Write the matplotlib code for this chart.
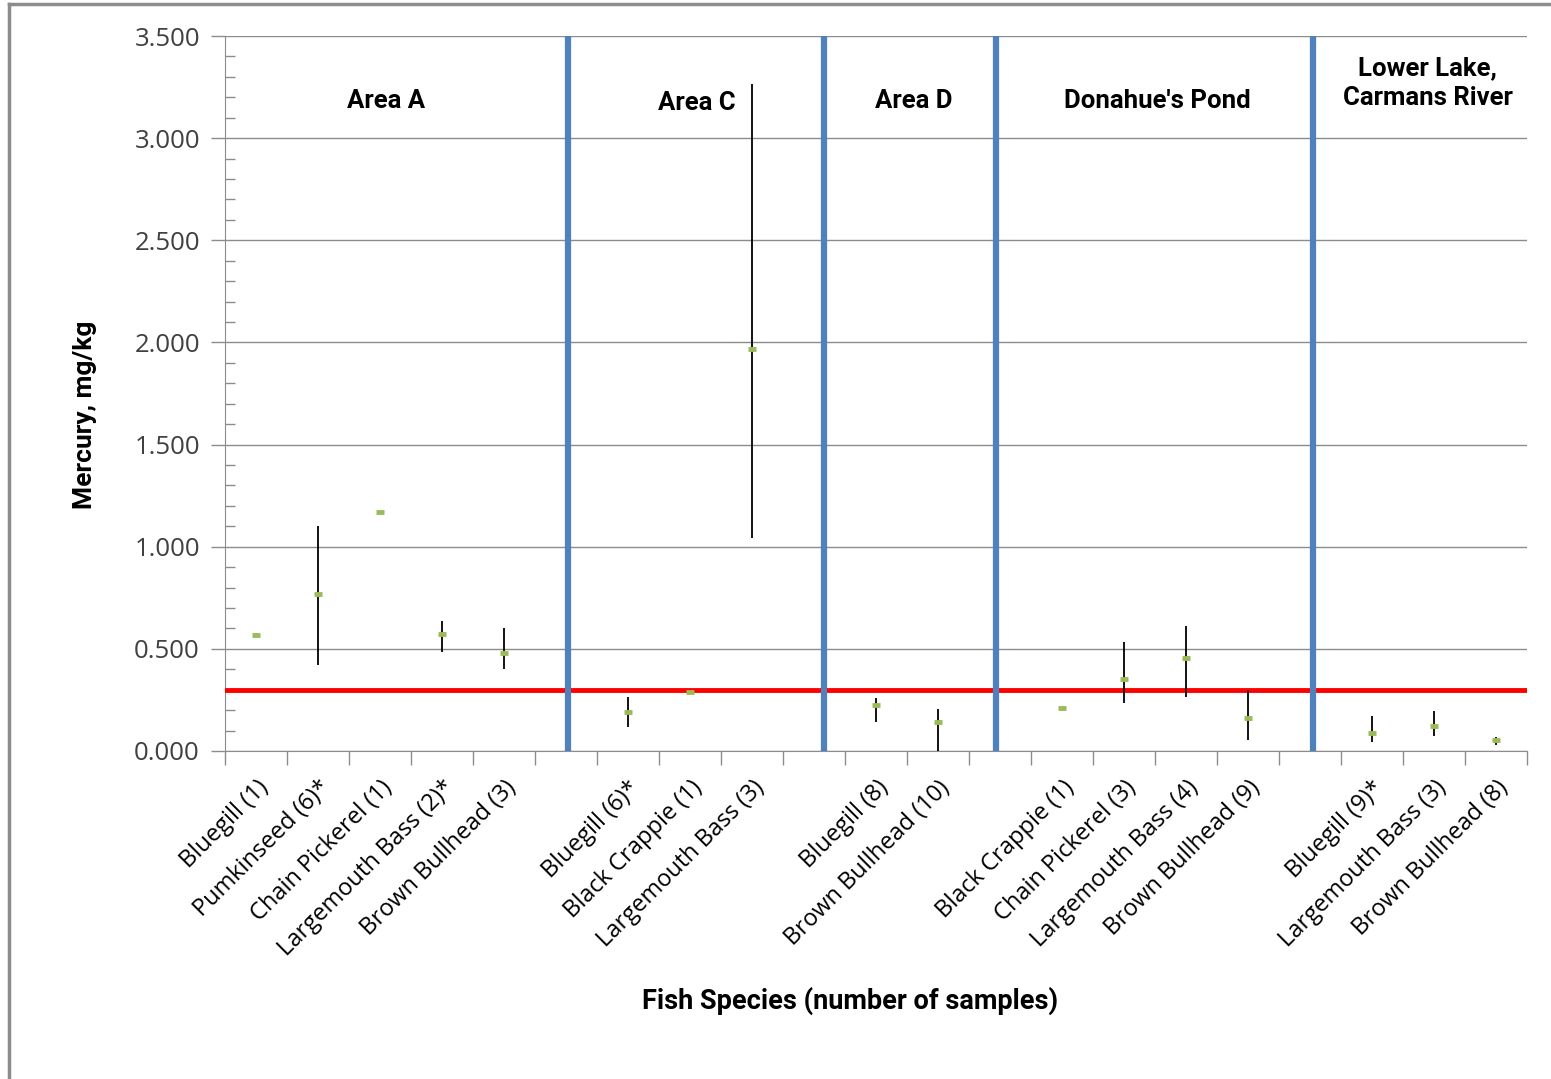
import matplotlib
matplotlib.use("Agg")
import matplotlib.pyplot as plt
import numpy as np
from matplotlib.lines import Line2D

categories = ["Bluegill (1)", "Pumkinseed (6)*", "Chain Pickerel (1)", "Largemouth Bass (2)*",
              "Brown Bullhead (3)", "",
              "Bluegill (6)*", "Black Crappie (1)", "Largemouth Bass (3)", "",
              "Bluegill (8)", "Brown Bullhead (10)", "",
              "Black Crappie (1)", "Chain Pickerel (3)", "Largemouth Bass (4)", "Brown Bullhead (9)", "",
              "Bluegill (9)*", "Largemouth Bass (3)", "Brown Bullhead (8)"]
means = [0.567, 0.768, 1.170, 0.573, 0.480, None,
         0.190, 0.288, 1.968, None,
         0.225, 0.142, None,
         0.210, 0.352, 0.455, 0.162, None,
         0.088, 0.122, 0.054]
lows = [None, 0.420, None, 0.485, 0.400, None,
        0.117, None, 1.043, None,
        0.142, 0.000, None,
        None, 0.235, 0.264, 0.054, None,
        0.044, 0.073, 0.030]
highs = [None, 1.100, None, 0.636, 0.602, None,
         0.264, None, 3.265, None,
         0.260, 0.206, None,
         None, 0.534, 0.612, 0.300, None,
         0.171, 0.196, 0.068]
threshold = 0.3
dividers = [5.03, 9.16, 11.94, 17.05]
areas = ["Area A", "Area C", "Area D", "Donahue's Pond", "Lower Lake,\nCarmans River"]
area_x = [2.1, 7.11, 10.61, 14.53, 18.9]
area_y = [3.18, 3.17, 3.18, 3.18, 3.27]

narrow = ["Roboto", "DejaVu Sans"]
tickfont = ["Open Sans", "DejaVu Sans"]

fig = plt.figure(figsize=(15.51, 10.79), dpi=100)
ax = fig.add_axes([225/1551, 1-751/1079, (1527-225)/1551, (751-36)/1079])

x = np.arange(len(categories))
ax.set_xlim(-0.5, len(categories) - 0.5)
ax.set_ylim(0, 3.5)

ax.set_yticks(np.arange(0, 3.51, 0.5))
ax.set_yticks(np.arange(0, 3.51, 0.1), minor=True)
ax.yaxis.grid(True, which="major", color="#8c8c8c", lw=1.0)
ax.set_axisbelow(True)
ax.set_yticklabels([f"{v:.3f}" for v in np.arange(0, 3.51, 0.5)], fontsize=18.5,
                   family=tickfont, color="#404040")
ax.tick_params(axis="y", which="major", length=10, width=1, color="#8c8c8c", direction="out", pad=8)
ax.tick_params(axis="y", which="minor", length=7, width=1, color="#8c8c8c", direction="in")

ax.set_xticks(x)
ax.set_xticklabels(categories, rotation=45, ha="right", rotation_mode="anchor",
                   fontsize=17, family=tickfont)
ax.set_xticks(np.arange(-0.5, len(categories), 1.0), minor=True)
ax.tick_params(axis="x", which="major", length=0, pad=18)
ax.tick_params(axis="x", which="minor", length=10, width=1, color="#8c8c8c", direction="out")

for s in ["top", "right"]:
    ax.spines[s].set_visible(False)
ax.spines["left"].set_color("#8c8c8c")
ax.spines["bottom"].set_color("#8c8c8c")

ax.axhline(threshold, color="#ff0000", lw=3.5, zorder=3)

for d in dividers:
    ax.axvline(d, color="#4f81bd", lw=4.5, zorder=4)

for i, (m, lo, hi) in enumerate(zip(means, lows, highs)):
    if lo is not None:
        ax.vlines(i, lo, hi, color="black", lw=1.3, zorder=5)
    if m is not None:
        ax.plot(i, m, marker="_", ms=6, mew=3.5, color="#9bbb59", zorder=6)

for t, ax_x, ax_y in zip(areas, area_x, area_y):
    ax.text(ax_x, ax_y, t, ha="center", va="center", fontsize=18.5, fontweight="bold",
            family=narrow, linespacing=1.3)

fig.text(85/1551, 1-415/1079, "Mercury, mg/kg", rotation=90, ha="center", va="center",
         fontsize=19, fontweight="bold", family=narrow)
fig.text(850/1551, 1-1001/1079, "Fish Species (number of samples)", ha="center", va="center",
         fontsize=19.5, fontweight="bold", family=narrow)

fig.add_artist(Line2D([9/1551, 1.0], [1-4/1079, 1-4/1079], transform=fig.transFigure,
                      color="#8c8c8c", lw=2.5))
fig.add_artist(Line2D([9/1551, 9/1551], [0, 1-4/1079], transform=fig.transFigure,
                      color="#8c8c8c", lw=2.5))

fig.savefig("out.png", dpi=100)
